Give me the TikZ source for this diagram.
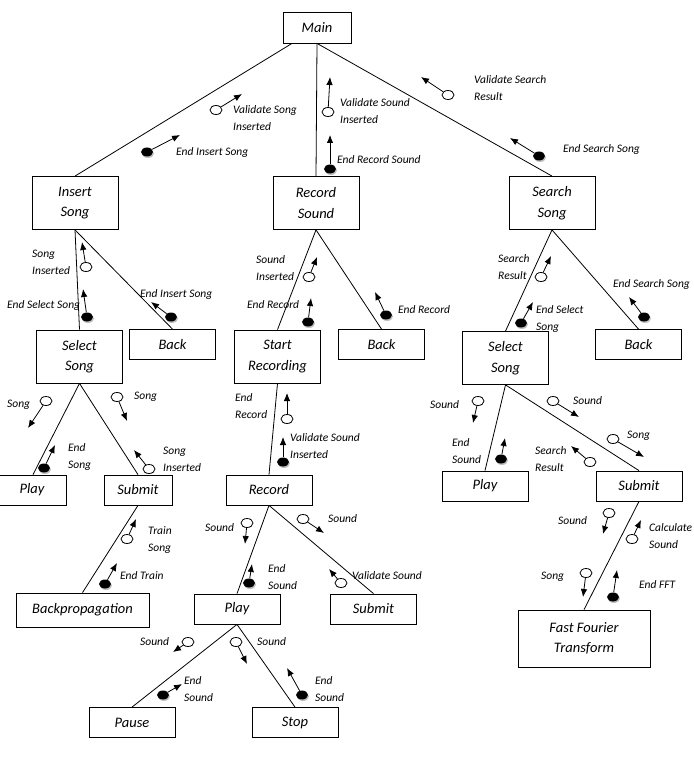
\documentclass[tikz,border=0pt]{standalone}
\usepackage{fontspec}
\setmainfont{Carlito}
\usetikzlibrary{arrows.meta,shapes.geometric,shadows}

\tikzset{
  box/.style={draw, line width=0.8pt, minimum width=86pt, minimum height=30pt, inner sep=0pt,
              align=center, font=\fontsize{14.5}{20.5}\selectfont\itshape},
  tallbox/.style={box, minimum height=53pt},
  lbl/.style={anchor=west, inner sep=0pt, align=left, font=\fontsize{11.5}{17}\selectfont\itshape},
  opencpl/.style={ellipse, draw, line width=0.8pt, fill=white, minimum width=12pt, minimum height=9pt, inner sep=0pt},
  fullcpl/.style={ellipse, fill=black, minimum width=12pt, minimum height=9pt, inner sep=0pt,
                  drop shadow={shadow xshift=1pt, shadow yshift=-1.5pt, fill=black!25, opacity=1}},
  flowarr/.style={line width=0.8pt, -{Latex[length=8pt,width=6.5pt]}},
  link/.style={line width=0.8pt}
}

% couple: style, name, circle, arrow tip, label position, label text
\newcommand{\couple}[6]{%
  \node[#1] (#2) at (#3) {};
  \coordinate (#2-tip) at (#4);
  \draw[flowarr] (#2) -- (#2-tip);
  \node[lbl] (#2-lbl) at (#5) {#6};}

\begin{document}
\begin{tikzpicture}[x=1pt,y=-1pt]
\useasboundingbox (0,0) rectangle (693,759);

%Drawing modules
\node[box, minimum width=68pt, minimum height=31pt] (main) at (317,27.5) {Main};

\node[tallbox] (ins) at (75,203) {Insert\\Song};
\node[tallbox] (rec) at (316,203) {Record\\Sound};
\node[tallbox] (srch) at (552,203) {Search\\Song};

\node[tallbox] (sel1) at (79.5,356.5) {Select\\Song};
\node[box] (back1) at (172.5,344.5) {Back};
\node[tallbox] (start) at (277.5,356.5) {Start\\Recording};
\node[box] (back2) at (381.5,344.5) {Back};
\node[tallbox] (sel2) at (505.5,358) {Select\\Song};
\node[box] (back3) at (638.5,344.5) {Back};

\node[box, minimum width=76pt] (play1) at (28,490) {\hspace*{8pt}Play};
\node[box, minimum width=68pt] (sub1) at (138,490) {Submit};
\node[box, minimum width=133pt, minimum height=34pt] (bp) at (82.5,610) {Backpropagation};

\node[box] (recd) at (269,490) {Record};
\node[box] (play2) at (237,609) {Play};
\node[box] (sub2) at (373.5,609) {Submit};
\node[box] (pause) at (132,722.5) {Pause};
\node[box] (stop) at (295,722.5) {Stop};

\node[box] (play3) at (485,486) {Play};
\node[box] (sub3) at (639,486) {Submit};
\node[box, minimum width=132pt, minimum height=57pt] (fft) at (584,638.5) {Fast Fourier\\Transform};

%connecting them
\draw[link] ([xshift=-25pt]main.south) -- (ins.north);
\draw[link] (main.south) -- (rec.north);
\draw[link] (main.south) -- (srch.north);

\draw[link] (ins.south) -- (sel1.north);
\draw[link] (ins.south) -- (back1.north);
\draw[link] (sel1.south) -- ([xshift=5pt]play1.north);
\draw[link] (sel1.south) -- (sub1.north);
\draw[link] (sub1.south) -- (bp.north);

\draw[link] (rec.south) -- (start.north);
\draw[link] (rec.south) -- (back2.north);
\draw[link] (start.south) -- (recd.north);
\draw[link] (recd.south) -- (play2.north);
\draw[link] (recd.south) -- (sub2.north);
\draw[link] (play2.south) -- (pause.north);
\draw[link] (play2.south) -- (stop.north);

\draw[link] (srch.south) -- (sel2.north);
\draw[link] (srch.south) -- (back3.north);
\draw[link] (sel2.south) -- (play3.north);
\draw[link] (sel2.south) -- (sub3.north);
\draw[link] (sub3.south) -- (fft.north);

%couples under Main
\couple{opencpl}{vsi}{216,110}{242,94}{233,118.5}{Validate Song\\Inserted}
\couple{fullcpl}{eis}{147,152}{180,135}{176,152}{End Insert Song}
\couple{opencpl}{vsn}{328,112}{330,77}{340,111}{Validate Sound\\Inserted}
\couple{fullcpl}{ers}{330,169}{330,135}{337,160}{End Record Sound}
\couple{opencpl}{vsr}{448,95}{421,77}{474,88.5}{Validate Search\\Result}
\couple{fullcpl}{ess}{539,156}{510,138}{563,149}{End Search Song}

%couples under Insert Song
\couple{opencpl}{si}{86,267}{82,242}{32,262.5}{Song\\Inserted}
\couple{fullcpl}{esl}{87,317}{83,289}{7,305}{End Select Song}
\couple{fullcpl}{eib}{171,317}{151,302}{140,294}{End Insert Song}
\couple{opencpl}{sg1}{46,401}{28,428}{7,405}{Song}
\couple{opencpl}{sg2}{117,397}{127,421}{134,397}{Song}
\couple{fullcpl}{esg}{44,468}{55,445}{68,456.5}{End\\Song}
\couple{opencpl}{sgi}{149,469}{134,450}{163,459.5}{Song\\Inserted}
\couple{opencpl}{ts}{127,539}{136,519}{148,540.5}{Train\\Song}
\couple{fullcpl}{et}{105,584}{117,563}{120,576}{End Train}

%couples under Record Sound
\couple{opencpl}{sin}{309,277}{317,257}{256,268.5}{Sound\\Inserted}
\couple{fullcpl}{er1}{308,322}{311,298}{247,305}{End Record}
\couple{fullcpl}{er2}{386,315}{375,292}{398,310}{End Record}
\couple{opencpl}{er3}{287,419}{287,393}{235,406.5}{End\\Record}
\couple{fullcpl}{vsd}{283,462}{283,437}{290,446.5}{Validate Sound\\Inserted}
\couple{opencpl}{sn1}{247,523}{245,544}{205,528}{Sound}
\couple{opencpl}{sn2}{303,519}{324,533}{328,519}{Sound}
\couple{fullcpl}{es1}{249,583}{252,564}{268,577.5}{End\\Sound}
\couple{opencpl}{vs}{341,583}{329,569}{352,576}{Validate Sound}
\couple{opencpl}{sn3}{188,642}{173,652}{140,642}{Sound}
\couple{opencpl}{sn4}{236,642}{247,664}{257,642}{Sound}
\couple{fullcpl}{es2}{163,695}{182,684}{184,689}{End\\Sound}
\couple{fullcpl}{es3}{302,695}{287,668}{315,689}{End\\Sound}

%couples under Search Song
\couple{opencpl}{sr}{541,277}{551,256}{498,267.5}{Search\\Result}
\couple{fullcpl}{es4}{521,323}{533,302}{536,318.5}{End Select\\Song}
\couple{fullcpl}{es5}{644,317}{629,297}{613,284}{End Search Song}
\couple{opencpl}{sn5}{478,401}{473,423}{430,405}{Sound}
\couple{opencpl}{sn6}{553,401}{579,417}{573,401}{Sound}
\couple{fullcpl}{es6}{501,459}{505,438}{452,451.5}{End\\Sound}
\couple{opencpl}{sg3}{613,439}{644,457}{627,436}{Song}
\couple{opencpl}{sr2}{590,462}{571,446}{535,459}{Search\\Result}
\couple{opencpl}{sn7}{609,513}{603,534}{558,521}{Sound}
\couple{opencpl}{cs}{632,539}{641,520}{649,536}{Calculate\\Sound}
\couple{opencpl}{sg4}{586,573}{583,597}{541,577}{Song}
\couple{fullcpl}{eff}{613,597}{617,570}{639,585}{End FFT}
\end{tikzpicture}
\end{document}
